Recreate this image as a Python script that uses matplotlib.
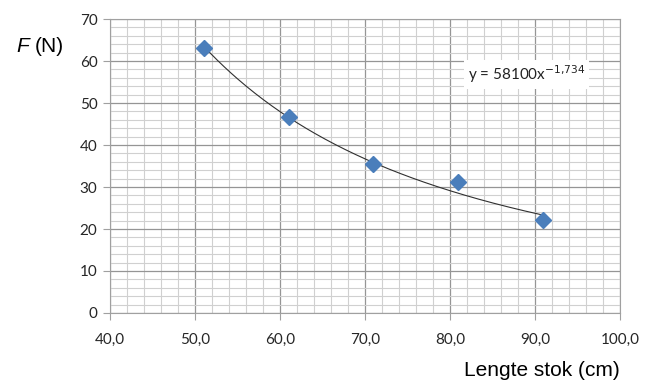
import numpy as np
import matplotlib.pyplot as plt
from matplotlib.ticker import MultipleLocator, FuncFormatter

# measured points
lengte = [51.0, 61.0, 71.0, 81.0, 91.0]
kracht = [63.2, 46.7, 35.6, 31.2, 22.1]

# power trendline as shown in the chart
coef_a = 58100
coef_b = -1.734

fig = plt.figure(figsize=(6.56, 3.81), dpi=100)
ax = fig.add_axes([0.1677, 0.1785, 0.7774, 0.7715])

x_fit = np.linspace(min(lengte), max(lengte), 200)
ax.plot(x_fit, coef_a * x_fit ** coef_b, color="#303030", linewidth=0.8, zorder=3)
ax.plot(lengte, kracht, linestyle="none", marker="D", markersize=8,
        color="#4A7EBB", markeredgecolor="#4A7EBB", zorder=4)

ax.set_xlim(40, 100)
ax.set_ylim(0, 70)
ax.xaxis.set_major_locator(MultipleLocator(10))
ax.xaxis.set_minor_locator(MultipleLocator(2))
ax.yaxis.set_major_locator(MultipleLocator(10))
ax.yaxis.set_minor_locator(MultipleLocator(2))
ax.xaxis.set_major_formatter(FuncFormatter(lambda v, p: f"{v:.1f}".replace(".", ",")))

ax.grid(which="major", color="#959595", linewidth=0.9)
ax.grid(which="minor", color="#d0d0d0", linewidth=0.8)
ax.set_axisbelow(True)
for s in ax.spines.values():
    s.set_color("#a0a0a0")
ax.tick_params(which="major", length=5, color="#a0a0a0", labelsize=11,
               labelcolor="#262626", labelfontfamily="Lato", pad=4)
ax.tick_params(which="minor", length=0)
ax.tick_params(axis="x", pad=9)

# axis titles placed like the original
fig.text(0.025, 0.877, "F", fontsize=15, family="Liberation Sans", style="italic",
         ha="left", va="center")
fig.text(0.053, 0.877, "(N)", fontsize=15, family="Liberation Sans",
         ha="left", va="center")
fig.text(0.945, 0.028, "Lengte stok (cm)", fontsize=15, family="Liberation Sans",
         ha="right", va="center")

ax.text(82.1, 56.8, "y = 58100x$^{-1{,}734}$", fontsize=11, family="Lato",
        color="#222222", ha="left", va="center",
        bbox=dict(facecolor="white", edgecolor="none", pad=3))

fig.savefig("out.png", dpi=100)
